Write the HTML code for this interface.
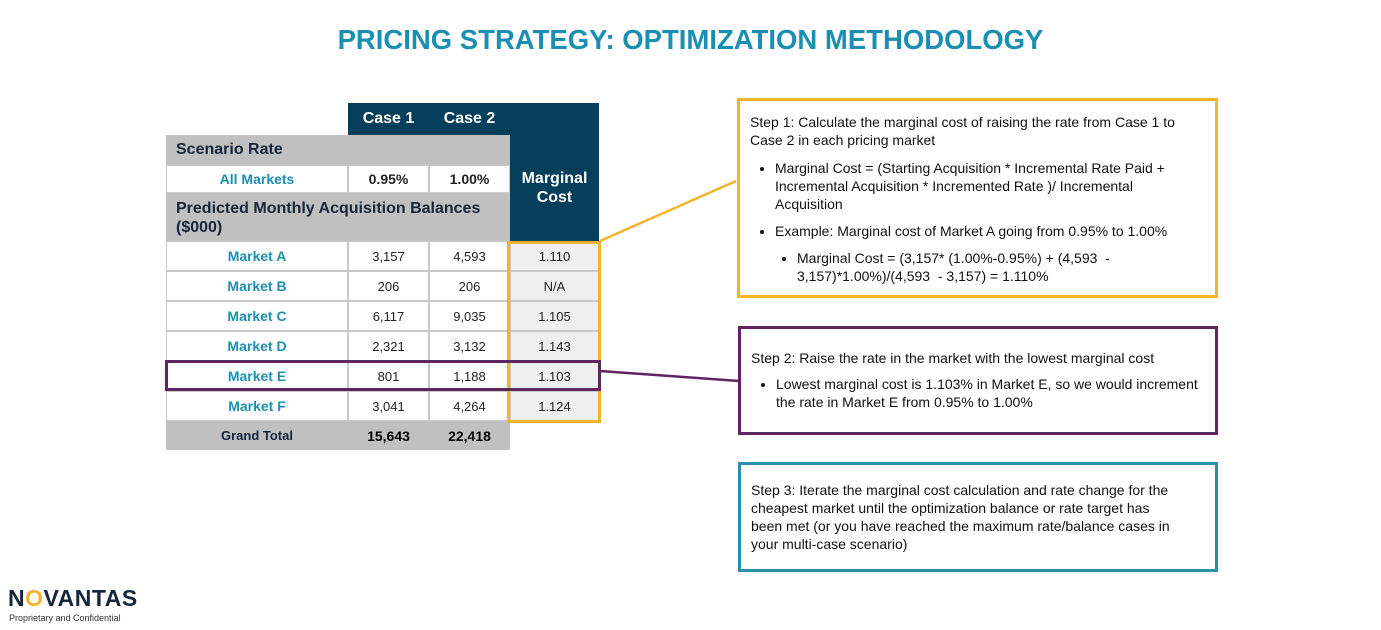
<!DOCTYPE html>
<html><head><meta charset="utf-8"><style>
*{margin:0;padding:0;box-sizing:border-box}
body{width:1381px;height:630px;background:#fff;position:relative;overflow:hidden;font-family:"Liberation Sans",sans-serif}
.a{position:absolute}
.c{position:absolute;display:flex;align-items:center;justify-content:center;font-size:13px;color:#222}
.mk{color:#1f8fb0;font-weight:bold;font-size:14px}
.box{position:absolute;border:3px solid;padding:10px 10px;font-size:14px;line-height:18px;color:#111;white-space:nowrap}
.box ul{margin:10px 0 0 25px}
.box li{margin-bottom:9px}
</style></head><body>
<div class="a" style="left:0;width:1381px;top:24px;text-align:center;font-size:27.5px;font-weight:bold;color:#1b8fb1">PRICING STRATEGY: OPTIMIZATION METHODOLOGY</div>

<div>
<div class="a" style="left:348px;top:103px;width:251px;height:32px;background:#063f5c"></div>
<div class="a" style="left:510px;top:103px;width:89px;height:138px;background:#063f5c"></div>
<div class="c" style="left:348px;top:103px;width:81px;height:32px;color:#fff;font-weight:bold;font-size:16px">Case 1</div>
<div class="c" style="left:429px;top:103px;width:81px;height:32px;color:#fff;font-weight:bold;font-size:16px">Case 2</div>
<div class="c" style="left:510px;top:135px;width:89px;height:106px;color:#fff;font-weight:bold;font-size:16px;text-align:center;line-height:19px">Marginal<br>Cost</div>
<div class="a" style="left:166px;top:135px;width:344px;height:30px;background:#c0c0c0;font-weight:bold;font-size:16px;color:#15253a;padding:6px 10px">Scenario Rate</div>
<div class="c mk" style="left:166px;top:165px;width:182px;height:28px;background:#fff;border:1px solid #c8c8c8">All Markets</div>
<div class="c" style="left:348px;top:165px;width:81px;height:28px;border:1px solid #c8c8c8;font-weight:bold;font-size:14px">0.95%</div>
<div class="c" style="left:429px;top:165px;width:81px;height:28px;border:1px solid #c8c8c8;font-weight:bold;font-size:14px">1.00%</div>
<div class="a" style="left:166px;top:193px;width:344px;height:48px;background:#c0c0c0;font-weight:bold;font-size:16px;color:#15253a;padding:6px 10px;line-height:19px">Predicted Monthly Acquisition Balances<br>($000)</div>
<div id="rows"></div>
<div class="a" style="left:166px;top:421px;width:344px;height:29px;background:#c0c0c0"></div>
<div class="c" style="left:166px;top:421px;width:182px;height:29px;font-weight:bold;color:#15253a">Grand Total</div>
<div class="c" style="left:348px;top:421px;width:81px;height:29px;font-weight:bold;font-size:14px;color:#000">15,643</div>
<div class="c" style="left:429px;top:421px;width:81px;height:29px;font-weight:bold;font-size:14px;color:#000">22,418</div>
</div>

<div class="a" style="left:507px;top:241px;width:94px;height:182px;border:3px solid #f2b42b"></div>
<div class="a" style="left:165px;top:360px;width:436px;height:31px;border:3px solid #5e2560"></div>

<svg class="a" style="left:0;top:0" width="1381" height="630">
<line x1="600" y1="241" x2="736" y2="181" stroke="#f2b42b" stroke-width="2.5"/>
<line x1="600" y1="371" x2="739" y2="381" stroke="#5e2560" stroke-width="2.5"/>
</svg>

<div class="box" style="left:737px;top:98px;width:481px;height:200px;border-color:#f2b42b;padding-top:12px">
Step 1: Calculate the marginal cost of raising the rate from Case 1 to<br>Case 2 in each pricing market
<ul><li>Marginal Cost = (Starting Acquisition * Incremental Rate Paid +<br>Incremental Acquisition * Incremented Rate )/ Incremental<br>Acquisition</li>
<li>Example: Marginal cost of Market A going from 0.95% to 1.00%
<ul style="margin-left:22px;margin-top:9px;list-style:disc"><li>Marginal Cost = (3,157* (1.00%-0.95%) + (4,593 &nbsp;-<br>3,157)*1.00%)/(4,593 &nbsp;- 3,157) = 1.110%</li></ul></li></ul>
</div>
<div class="box" style="left:738px;top:326px;width:480px;height:109px;border-color:#5e2560;padding-top:20px">
Step 2: Raise the rate in the market with the lowest marginal cost
<ul style="margin-top:8px"><li>Lowest marginal cost is 1.103% in Market E, so we would increment<br>the rate in Market E from 0.95% to 1.00%</li></ul>
</div>
<div class="box" style="left:738px;top:462px;width:480px;height:110px;border-color:#2a8fac;padding-top:16px">
Step 3: Iterate the marginal cost calculation and rate change for the<br>cheapest market until the optimization balance or rate target has<br>been met (or you have reached the maximum rate/balance cases in<br>your multi-case scenario)
</div>

<div class="a" style="left:8px;top:585px;font-size:23px;font-weight:bold;color:#15253a;letter-spacing:0.5px">N<span style="color:#f2b42b">O</span>VANTAS</div>
<div class="a" style="left:9px;top:613px;font-size:9px;color:#333">Proprietary and Confidential</div>

<script>
const markets=["Market A","Market B","Market C","Market D","Market E","Market F"];
const case1=["3,157","206","6,117","2,321","801","3,041"];
const case2=["4,593","206","9,035","3,132","1,188","4,264"];
const marginal=["1.110","N/A","1.105","1.143","1.103","1.124"];
const rows=document.getElementById('rows');
markets.forEach((m,i)=>{
  const y=241+i*30;
  const cells=[[166,182,m,'c mk','#fff'],[348,81,case1[i],'c','#fff'],[429,81,case2[i],'c','#fff'],[510,89,marginal[i],'c','#efefef']];
  cells.forEach((c,j)=>{
    const d=document.createElement('div');
    d.className=c[3];
    d.style.cssText=`left:${c[0]}px;top:${y}px;width:${c[1]}px;height:30px;background:${c[4]};border:1px solid #c8c8c8`;
    d.textContent=c[2];
    
    
    rows.appendChild(d);
  });
});
</script>
</body></html>
